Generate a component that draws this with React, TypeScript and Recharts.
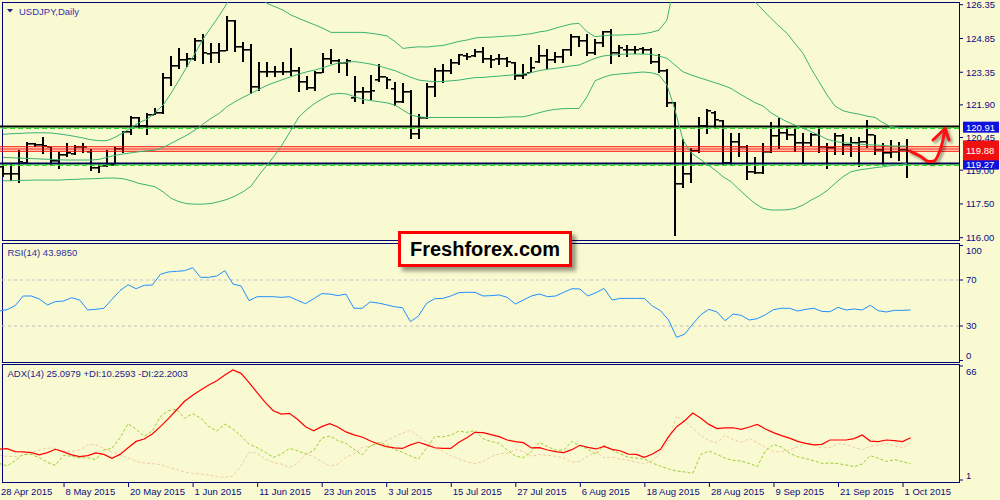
import React from 'react';
import { ComposedChart, Bar, Line, XAxis, YAxis, ReferenceLine } from 'recharts';

const BG = '#FAFAD2';
const NAVY = '#0A0A80';
const FRAME = '#00007A';
const FONT = '"Liberation Sans", Arial, sans-serif';

// ---------- categories / tick labels ----------
const dateTickIndex = [0, 8, 16, 24, 32, 40, 48, 56, 64, 72, 80, 88, 96, 104, 112];
const dateTickLabels = ['28 Apr 2015', '8 May 2015', '20 May 2015', '1 Jun 2015', '11 Jun 2015', '23 Jun 2015', '3 Jul 2015', '15 Jul 2015', '27 Jul 2015', '6 Aug 2015', '18 Aug 2015', '28 Aug 2015', '9 Sep 2015', '21 Sep 2015', '1 Oct 2015'];
const priceTicks = [116.0, 117.5, 119.0, 120.45, 121.9, 123.35, 124.85, 126.35];
const rsiTicks = [0, 30, 70, 100];
const adxTicks = [1, 66];
const priceDomain = [115.898, 126.47];
const rsiDomain = [-1.3, 102.17];
const adxDomain = [-0.14, 67.13];

// ---------- USDJPY daily OHLC ----------
const openP = [119.15,118.83,118.84,119.33,120.16,120.12,120.04,119.42,119.67,119.72,
120.04,119.82,119.08,119.20,119.23,119.94,120.68,121.30,120.96,121.45,
121.52,123.08,123.64,123.89,123.94,124.75,124.16,124.22,124.31,125.64,
124.45,124.34,122.68,123.37,123.37,123.37,123.37,123.40,122.93,122.63,
123.33,123.92,123.86,123.77,122.20,122.49,122.49,123.00,123.12,122.59,
122.04,122.45,120.60,121.30,122.68,123.42,123.40,123.77,124.07,124.07,
124.26,123.92,123.92,123.92,123.74,123.18,123.30,123.80,124.07,123.89,
124.01,124.34,124.90,124.75,124.19,124.66,125.14,124.19,124.34,124.34,
124.37,124.34,123.82,123.40,121.99,118.38,118.83,119.86,120.96,121.52,
121.20,119.33,120.26,120.04,118.93,118.86,119.82,120.52,120.63,120.56,
120.22,120.22,120.56,120.01,119.97,120.52,120.12,120.19,120.26,120.56,
119.89,119.75,119.82,119.89];
const highP = [119.30,119.30,119.89,120.27,120.22,120.46,120.04,119.82,120.19,120.12,
120.22,119.94,119.30,119.89,120.04,120.72,121.42,121.34,121.52,121.74,
123.30,124.07,124.41,124.22,124.88,125.05,124.66,124.66,125.85,125.67,
124.71,124.59,123.80,123.82,123.63,123.80,124.42,123.60,123.18,123.40,
124.19,124.37,123.92,123.95,123.18,122.68,123.21,123.71,123.15,122.93,
122.88,122.56,121.49,122.86,123.52,123.70,123.92,124.16,124.19,124.38,
124.45,124.11,124.16,124.04,123.82,123.71,124.01,124.56,124.37,124.26,
124.37,125.05,124.96,125.05,124.81,125.19,125.27,124.56,124.56,124.51,
124.48,124.44,124.16,123.48,122.04,120.37,119.97,121.34,121.72,121.63,
121.23,120.66,120.66,120.12,119.60,120.19,121.15,121.30,120.96,120.81,
120.63,120.66,120.93,120.22,120.63,120.59,120.46,120.46,121.23,120.56,
120.19,120.34,120.26,120.37];
const lowP = [118.68,118.53,118.44,119.30,120.04,119.72,119.20,119.03,119.57,119.66,
119.77,118.97,118.86,119.12,119.21,119.77,120.56,120.87,120.57,121.45,
121.49,122.74,123.48,123.60,123.86,123.70,123.74,123.74,124.31,124.26,
123.82,122.38,122.53,123.15,123.15,123.23,123.18,122.47,122.56,122.53,
123.30,123.71,123.30,123.18,122.04,121.94,122.11,122.93,122.59,121.85,
121.99,120.37,120.40,121.26,122.26,122.88,123.27,123.67,123.89,124.04,
123.74,123.52,123.67,123.60,123.00,123.03,123.30,123.74,123.48,123.77,
123.74,124.07,124.48,124.07,124.11,124.48,123.71,124.01,124.01,124.16,
124.16,123.71,123.33,121.79,116.07,118.19,118.41,119.75,120.59,120.86,
119.18,119.18,119.60,118.56,118.83,118.83,119.77,119.92,120.34,119.82,
119.33,120.07,119.75,119.03,119.67,119.67,119.57,119.15,119.97,119.67,
119.23,119.52,119.42,118.63];
const closeP = [118.83,118.83,119.38,120.16,120.10,120.09,119.42,119.67,119.75,120.04,
120.04,119.08,119.20,119.23,119.94,120.68,121.30,120.96,121.45,121.52,
123.08,123.64,123.89,123.94,124.75,124.19,124.22,124.31,125.64,124.45,
124.34,122.68,123.37,123.37,123.37,123.37,123.40,122.93,122.63,123.33,
123.92,123.86,123.77,123.86,122.49,122.49,122.53,123.12,123.00,122.04,
122.49,120.60,121.30,122.68,123.42,123.40,123.77,124.11,124.04,124.26,
123.92,123.89,123.92,123.82,123.18,123.23,123.52,124.07,123.89,124.01,
124.34,124.90,124.75,124.19,124.66,125.14,124.19,124.41,124.34,124.34,
124.34,123.82,123.40,121.99,118.38,118.83,119.86,120.96,121.64,121.23,
119.33,120.26,120.04,118.93,118.86,119.82,120.52,120.63,120.56,120.22,
120.22,120.56,120.01,119.97,120.52,120.12,120.19,120.26,120.56,119.89,
119.75,119.82,119.89,119.86];

// ---------- Bollinger bands ----------
const bbUpper = [120.59,120.62,120.63,120.65,120.66,120.66,120.65,120.61,120.56,120.50,
120.43,120.35,120.31,120.31,120.46,120.66,120.89,121.11,121.26,121.55,
121.89,122.41,123.00,123.60,124.19,124.81,125.34,125.85,126.41,126.85,
127.15,127.00,126.71,126.41,126.26,126.11,125.89,125.74,125.59,125.45,
125.30,125.12,125.12,125.12,125.12,125.12,125.08,125.03,124.96,124.71,
124.41,124.45,124.48,124.47,124.51,124.54,124.63,124.72,124.78,124.87,
124.90,124.91,124.93,124.96,124.97,125.02,125.06,125.14,125.19,125.30,
125.40,125.49,125.52,125.15,124.93,124.97,125.00,125.00,125.02,125.03,
125.06,125.12,125.22,125.67,127.45,128.33,128.78,128.93,128.78,128.48,
128.19,127.74,127.30,126.85,126.48,126.11,125.74,125.40,125.08,124.63,
124.19,123.52,122.93,122.34,121.85,121.64,121.55,121.49,121.40,121.34,
121.11,120.93,120.90,120.89];
const bbMiddle = [119.57,119.55,119.54,119.52,119.51,119.49,119.48,119.46,119.45,119.45,
119.45,119.45,119.48,119.57,119.66,119.72,119.77,119.82,119.86,119.89,
120.01,120.19,120.37,120.56,120.78,121.05,121.30,121.52,121.82,122.04,
122.23,122.41,122.59,122.77,122.90,123.03,123.15,123.27,123.37,123.45,
123.55,123.67,123.77,123.80,123.82,123.77,123.71,123.63,123.52,123.42,
123.27,123.12,123.00,122.96,122.93,122.94,122.97,123.00,123.06,123.11,
123.12,123.15,123.18,123.21,123.24,123.27,123.33,123.42,123.48,123.52,
123.57,123.63,123.67,123.82,123.97,124.07,124.11,124.14,124.16,124.16,
124.16,124.14,124.07,123.97,123.67,123.37,123.23,123.11,123.00,122.88,
122.77,122.63,122.41,122.20,122.00,121.85,121.55,121.34,121.15,121.00,
120.86,120.71,120.56,120.37,120.28,120.22,120.19,120.16,120.13,120.12,
120.10,120.07,120.07,120.07];
const bbLower = [118.53,118.53,118.55,118.55,118.56,118.56,118.56,118.56,118.58,118.59,
118.61,118.62,118.63,118.65,118.65,118.62,118.53,118.41,118.34,118.26,
118.04,117.75,117.60,117.51,117.49,117.49,117.52,117.60,117.70,117.85,
118.04,118.29,118.78,119.23,119.67,120.19,120.78,121.37,121.70,121.97,
122.19,122.37,122.41,122.38,122.26,122.14,122.09,122.04,121.99,121.89,
121.67,121.45,121.37,121.34,121.34,121.34,121.34,121.34,121.34,121.34,
121.34,121.34,121.34,121.36,121.37,121.37,121.45,121.55,121.64,121.70,
121.73,121.74,121.74,122.26,122.97,123.12,123.23,123.27,123.30,123.33,
123.36,123.33,123.23,122.78,121.67,120.34,119.77,119.52,119.27,119.01,
118.71,118.49,118.15,117.82,117.52,117.30,117.23,117.23,117.24,117.30,
117.45,117.67,117.85,118.09,118.41,118.71,118.93,119.01,119.06,119.11,
119.15,119.20,119.24,119.30];

// ---------- RSI(14) ----------
const rsiVals = [43.0,44.2,47.7,56.1,56.1,53.5,48.3,51.2,51.7,54.6,
52.6,43.9,44.5,45.4,53.2,60.7,65.9,62.4,65.4,65.6,
74.9,77.0,77.5,78.1,80.7,72.3,72.3,73.5,78.1,66.5,
64.8,52.0,55.5,55.5,55.5,54.9,55.5,52.3,49.4,53.7,
58.1,57.8,56.4,57.8,45.4,45.4,50.9,50.0,48.5,46.8,
45.9,33.8,38.7,49.7,53.7,54.0,56.1,59.0,59.3,59.3,
56.1,56.4,57.0,54.9,49.1,52.6,56.1,57.8,55.5,56.1,
59.3,62.4,62.2,56.1,59.0,62.7,52.6,54.0,54.0,54.0,
54.0,47.4,43.3,35.2,20.1,23.0,31.7,39.8,44.5,42.2,
34.6,40.4,39.3,35.2,36.4,39.8,44.2,45.4,45.4,43.0,
44.5,45.4,42.7,42.4,46.2,43.9,44.8,43.9,48.0,43.3,
42.2,43.6,43.6,43.99];

// ---------- ADX(14), +DI, -DI ----------
const adxVals = [18.5,18.9,17.2,17.0,16.6,15.3,16.6,18.5,17.0,15.3,
14.3,14.9,16.4,15.6,13.4,15.6,19.4,23.0,24.4,27.2,
31.4,36.0,40.9,45.9,49.3,52.3,55.2,57.6,60.9,63.7,
61.8,56.5,50.8,45.3,40.5,38.6,39.0,35.6,31.4,29.1,
31.4,33.1,31.2,28.4,26.7,25.5,23.4,21.5,20.0,19.3,
19.0,21.0,22.5,21.0,19.4,19.0,19.0,22.5,25.1,28.2,
28.0,26.9,25.7,23.8,22.9,22.3,19.3,19.4,18.1,17.2,
16.6,18.3,20.8,19.6,18.7,20.2,18.5,17.7,15.8,15.6,
13.9,15.8,18.5,25.7,31.4,34.8,39.2,36.2,32.7,30.3,
30.7,30.8,29.9,31.2,32.7,30.1,28.0,26.3,24.9,23.0,
21.9,21.0,21.3,23.8,23.8,23.8,24.6,26.7,23.2,22.9,
23.8,23.4,22.9,25.1];
const plusDI = [10.5,9.0,12.0,15.6,15.6,13.7,11.1,9.4,15.1,14.5,
13.6,13.7,12.6,18.1,19.0,25.0,33.1,29.9,25.9,28.9,
37.1,40.5,41.3,36.2,38.8,36.4,31.4,28.9,32.9,30.1,
26.1,21.5,19.4,16.8,13.9,15.8,19.0,17.7,15.8,17.7,
24.8,26.1,23.4,21.9,18.5,15.3,20.4,22.3,21.2,18.5,
16.8,14.7,13.0,19.2,25.7,25.7,26.5,28.9,28.2,29.1,
24.6,22.9,21.9,18.1,14.7,13.7,17.2,22.5,20.0,18.1,
18.1,23.0,20.6,18.5,15.6,20.8,18.1,16.0,13.9,13.4,
13.0,10.7,8.8,7.3,6.1,5.6,4.8,15.6,17.5,15.6,
13.4,12.2,11.8,10.5,8.6,17.7,21.2,19.8,16.2,14.3,
13.2,12.0,10.5,10.7,10.3,9.6,8.6,10.1,14.9,13.4,
11.5,12.6,11.5,10.26];
const minusDI = [15.3,14.5,14.3,15.1,16.8,18.1,19.2,19.0,17.5,17.3,
18.1,21.0,21.2,19.0,17.0,15.3,13.6,11.6,10.7,10.3,
9.8,8.2,6.9,5.6,4.8,4.4,3.9,2.9,2.5,3.3,
9.0,16.8,16.2,12.8,11.1,10.1,8.2,10.5,15.8,14.3,
11.5,9.0,10.1,14.1,15.8,19.6,20.2,21.9,23.4,25.7,
27.6,29.5,25.9,23.0,19.4,17.3,14.9,13.0,11.3,10.3,
11.5,14.3,16.0,16.2,18.5,17.2,14.5,15.6,15.1,14.5,
13.6,11.3,11.5,14.7,17.0,13.6,14.1,13.0,12.2,11.3,
10.1,12.4,16.4,23.8,37.5,34.4,30.3,26.5,23.4,22.3,
26.5,24.0,22.5,24.6,22.3,19.6,17.2,17.0,18.1,19.8,
22.1,21.0,19.2,19.6,21.7,21.3,19.6,18.1,20.4,20.8,
22.1,20.4,19.2,22.2];

// ---------- levels & annotation ----------
const resistanceLevel = 120.91;
const supportLevel = 119.27;
const pivotLines = [120.04, 119.94, 119.84];
const pivotLabel = 119.88;
const arrowBody = [{ x: 113.375, y: 119.85 }, { x: 114.625, y: 119.63 }, { x: 115.75, y: 119.38 }, { x: 116.375, y: 119.41 }, { x: 117.0, y: 119.76 }, { x: 117.4375, y: 120.25 }, { x: 117.75, y: 120.85 }];
const arrowBarbLeft = [{ x: 116.25, y: 120.34 }, { x: 117.75, y: 120.85 }];
const arrowBarbRight = [{ x: 117.75, y: 120.85 }, { x: 118.25, y: 120.34 }];

const SLOTS = 120;
const priceRows = Array.from({ length: SLOTS }, (_, i) =>
  i < openP.length
    ? { i, o: openP[i], h: highP[i], l: lowP[i], c: closeP[i], bu: bbUpper[i], bm: bbMiddle[i], bl: bbLower[i] }
    : { i });
const rsiRows = Array.from({ length: SLOTS }, (_, i) => (i < rsiVals.length ? { i, rsi: rsiVals[i] } : { i }));
const adxRows = Array.from({ length: SLOTS }, (_, i) =>
  i < adxVals.length ? { i, adx: adxVals[i], pdi: plusDI[i], mdi: minusDI[i] } : { i });

// ---------- custom renderers ----------
const OhlcBar = (props: any) => {
  const { x, y, width, height, payload } = props;
  if (!payload || payload.h == null || x == null || y == null) return <g />;
  const top = Math.min(y, y + height);
  const bottom = Math.max(y, y + height);
  const span = payload.h - payload.l;
  const toY = (v: number) => (span > 0 ? top + ((payload.h - v) / span) * (bottom - top) : top);
  const cx = Math.round(x + width / 2);
  const yo = Math.round(toY(payload.o));
  const yc = Math.round(toY(payload.c));
  const t = Math.round(top);
  const b = Math.round(bottom);
  return (
    <g fill="#000">
      <rect x={cx - 1} y={t} width={2} height={Math.max(1, b - t)} />
      <rect x={cx - 4} y={yo - 1} width={3} height={1.6} />
      <rect x={cx + 1} y={yc - 1} width={3} height={1.6} />
    </g>
  );
};

const levelShape = (lineColor: string, gid: string) => (props: any) => {
  const { x1, x2, y1 } = props;
  const y = Math.round(y1);
  return (
    <g>
      <defs>
        <linearGradient id={gid} x1="0" y1="0" x2="0" y2="1">
          <stop offset="0" stopColor="#6A6A50" stopOpacity={0.55} />
          <stop offset="1" stopColor="#6A6A50" stopOpacity={0} />
        </linearGradient>
      </defs>
      <rect x={x1} y={y + 1} width={x2 - x1} height={9} fill={`url(#${gid})`} />
      <line x1={x1} x2={x2} y1={y - 0.5} y2={y - 0.5} stroke={lineColor} strokeWidth={2} />
      <line x1={x1} x2={x2} y1={y + 1.2} y2={y + 1.2} stroke="#25E025" strokeWidth={1.6} strokeDasharray="5 3" />
    </g>
  );
};

const axisBox = (text: string, fill: string, h: number) => (props: any) => {
  const vb = props.viewBox || {};
  const x = (vb.x || 0) + (vb.width || 0) + 4;
  const y = vb.y || 0;
  return (
    <g>
      <rect x={x} y={y - h / 2} width={36} height={h} fill={fill} />
      <text x={x + 3} y={y} dy="0.36em" fill="#FFFFFF" fontSize={9.5} fontFamily={FONT}>{text}</text>
    </g>
  );
};

const makeTick = (digits: number, nudge: Record<string, number>) => (props: any) => {
  const { x, y, payload } = props;
  const v = payload.value;
  const d = nudge[String(v)] || 0;
  return (
    <text x={x} y={y + d} dy="0.36em" fill={NAVY} fontSize={9.5} fontFamily={FONT} textAnchor="start">
      {Number(v).toFixed(digits)}
    </text>
  );
};

const DateTick = (props: any) => {
  const { x, y, payload } = props;
  const k = dateTickIndex.indexOf(payload.value);
  return (
    <g>
      <line x1={x + 0.5} x2={x + 0.5} y1={y} y2={y + 5} stroke={FRAME} />
      <text x={x + 2} y={y + 12.5} fill={NAVY} fontSize={9.5} fontFamily={FONT} textAnchor="start">
        {k >= 0 ? dateTickLabels[k] : ''}
      </text>
    </g>
  );
};

const frame = (top: number, height: number) => (
  <div style={{ position: 'absolute', left: 2, top, width: 958, height, border: `1px solid ${FRAME}`, boxSizing: 'border-box' }} />
);

const yAxisCommon = {
  orientation: 'right' as const,
  width: 41,
  type: 'number' as const,
  interval: 0 as const,
  allowDataOverflow: true,
  tickSize: 4,
  tickMargin: 3,
  axisLine: false,
  tickLine: { stroke: FRAME },
};

export default function App() {
  return (
    <div style={{ position: 'absolute', left: 0, top: 0, width: 1000, height: 500, background: BG, overflow: 'hidden', fontFamily: FONT }}>
      {frame(2, 239)}
      {frame(243, 120)}
      {frame(364, 119)}

      {/* price panel: plot area y 2..240 */}
      <div style={{ position: 'absolute', left: -1, top: 0 }}>
        <ComposedChart width={1001} height={242} data={priceRows} margin={{ top: 2, right: 0, bottom: 2, left: 0 }}>
          <XAxis dataKey="i" hide />
          <YAxis {...yAxisCommon} domain={priceDomain} ticks={priceTicks} tick={makeTick(2, {})} />
          {pivotLines.map((v) => (
            <ReferenceLine key={v} y={v} stroke="#FF0000" strokeWidth={1} />
          ))}
          <ReferenceLine y={resistanceLevel} shape={levelShape('#000000', 'shR')} label={axisBox(resistanceLevel.toFixed(2), '#1010E0', 11)} />
          <ReferenceLine y={supportLevel} shape={levelShape('#000050', 'shS')} label={axisBox(supportLevel.toFixed(2), '#1010E0', 11)} />
          <ReferenceLine y={pivotLabel} stroke="none" label={axisBox(pivotLabel.toFixed(2), '#F01010', 20)} />
          <Line dataKey="bu" stroke="#3CB371" strokeWidth={1} dot={false} isAnimationActive={false} />
          <Line dataKey="bm" stroke="#3CB371" strokeWidth={1} dot={false} isAnimationActive={false} />
          <Line dataKey="bl" stroke="#3CB371" strokeWidth={1} dot={false} isAnimationActive={false} />
          <Bar dataKey={(d: any) => (d.h == null ? null : [d.l, d.h])} shape={OhlcBar} isAnimationActive={false} />
        </ComposedChart>
      </div>

      {/* arrow overlay */}
      <div style={{ position: 'absolute', left: -1, top: 0, filter: 'drop-shadow(2px 2px 1.5px rgba(0,0,0,0.45))' }}>
        <ComposedChart width={1001} height={242} margin={{ top: 2, right: 41, bottom: 2, left: 0 }}>
          <XAxis dataKey="x" type="number" domain={[-0.5, 119.5]} hide allowDataOverflow />
          <YAxis type="number" domain={priceDomain} hide allowDataOverflow />
          <Line data={arrowBody} dataKey="y" type="monotone" stroke="#FF1010" strokeWidth={3} strokeLinecap="round" dot={false} isAnimationActive={false} />
          <Line data={arrowBarbLeft} dataKey="y" stroke="#FF1010" strokeWidth={3} strokeLinecap="round" dot={false} isAnimationActive={false} />
          <Line data={arrowBarbRight} dataKey="y" stroke="#FF1010" strokeWidth={3} strokeLinecap="round" dot={false} isAnimationActive={false} />
        </ComposedChart>
      </div>

      {/* RSI panel */}
      <div style={{ position: 'absolute', left: -1, top: 243 }}>
        <ComposedChart width={1001} height={119} data={rsiRows} margin={{ top: 0, right: 0, bottom: 0, left: 0 }}>
          <XAxis dataKey="i" hide />
          <YAxis {...yAxisCommon} domain={rsiDomain} ticks={rsiTicks} tick={makeTick(0, { '100': 5, '0': -5 })} />
          <ReferenceLine y={70} stroke="#C0C0C0" strokeDasharray="3 3" />
          <ReferenceLine y={30} stroke="#C0C0C0" strokeDasharray="3 3" />
          <Line dataKey="rsi" stroke="#1E90FF" strokeWidth={1} dot={false} isAnimationActive={false} />
        </ComposedChart>
      </div>

      {/* ADX panel */}
      <div style={{ position: 'absolute', left: -1, top: 364 }}>
        <ComposedChart width={1001} height={136} data={adxRows} margin={{ top: 0, right: 0, bottom: 0, left: 0 }}>
          <XAxis dataKey="i" height={18} ticks={dateTickIndex} interval={0} tickSize={0} tickMargin={0} tickLine={false} axisLine={false} tick={DateTick} />
          <YAxis {...yAxisCommon} domain={adxDomain} ticks={adxTicks} tick={makeTick(0, { '66': 5.5, '1': -4.5 })} />
          <Line dataKey="mdi" stroke="#F2CBA6" strokeWidth={1} strokeDasharray="3 2" dot={false} isAnimationActive={false} />
          <Line dataKey="pdi" stroke="#9ACD32" strokeWidth={1} strokeDasharray="3 2" dot={false} isAnimationActive={false} />
          <Line dataKey="adx" stroke="#FF0000" strokeWidth={1.2} dot={false} isAnimationActive={false} />
        </ComposedChart>
      </div>

      {/* panel captions */}
      <svg style={{ position: 'absolute', left: 0, top: 0 }} width={1000} height={500} pointerEvents="none">
        <polygon points="7,9 13,9 10,12.5" fill="#1A1A90" />
        <text x={19} y={14.5} fontSize={9.5} fontFamily={FONT} fill="#2F2FAF">USDJPY,Daily</text>
        <text x={7.5} y={255.5} fontSize={9.5} fontFamily={FONT} fill="#2F2F9F">RSI(14) 43.9850</text>
        <text x={7.5} y={377} fontSize={9.5} fontFamily={FONT} fill="#1A1A8A">ADX(14) 25.0979 +DI:10.2593 -DI:22.2003</text>
      </svg>

      {/* watermark box */}
      <div style={{ position: 'absolute', left: 398, top: 231, width: 174, height: 36, boxSizing: 'border-box', background: '#FFFFE0', border: '3px solid #FF0000', boxShadow: '4px 4px 4px rgba(0,0,0,0.4)', display: 'flex', alignItems: 'center', justifyContent: 'center' }}>
        <span style={{ fontFamily: FONT, fontWeight: 'bold', fontSize: 20, color: '#000', lineHeight: '20px' }}>Freshforex.com</span>
      </div>
    </div>
  );
}
